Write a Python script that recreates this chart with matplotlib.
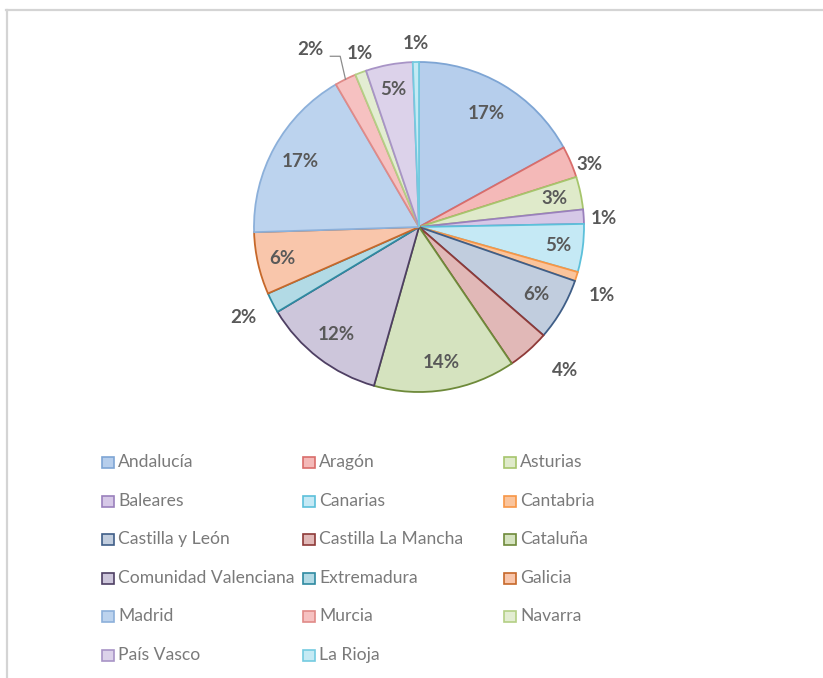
import numpy as np
import matplotlib
matplotlib.use("Agg")
import matplotlib.pyplot as plt
from matplotlib.patches import Rectangle
from matplotlib.lines import Line2D

# regions, clockwise from 12 o'clock
regions = ["Andalucía", "Aragón", "Asturias", "Baleares", "Canarias", "Cantabria",
           "Castilla y León", "Castilla La Mancha", "Cataluña",
           "Comunidad Valenciana", "Extremadura", "Galicia", "Madrid", "Murcia",
           "Navarra", "País Vasco", "La Rioja"]
shares = [17.0, 3.1, 3.2, 1.4, 4.7, 0.9, 6.1, 4.1, 13.9,
          12.0, 2.0, 6.1, 17.1, 2.1, 1.1, 4.6, 0.6]

fills = ["#B6CEEC", "#F4B9B8", "#DFEACA", "#D6C8E7", "#C5E9F5", "#FAC49C",
         "#C1CDDE", "#E1B8B7", "#D5E3BF", "#CDC6DB", "#B2DAE5", "#F9C6AB",
         "#BCD3EE", "#F6C1C1", "#E3EDD2", "#DCD2EA", "#C5EAF4"]
edges = ["#7EA5D4", "#D96D6B", "#A6C56C", "#9A80BC", "#5CC0DA", "#F79646",
         "#3F5E87", "#8E3A38", "#6E8A3A", "#4E3F63", "#2F8AA1", "#C6682A",
         "#8CB0DA", "#E08A88", "#B4CF85", "#A894C6", "#74CBE0"]

# label placement (radius in pie units, small angle tweak in degrees)
lab_r = [0.80, 1.10, 0.84, 1.12, 0.85, 1.18, 0.82, 1.24, 0.83,
         0.82, 1.20, 0.85, 0.82, 1.26, 1.11, 0.85, 1.11]
lab_da = [0, -3, 0, -1, 0, -3, 0, 4, 0, 0, 0, 0, 0, 5, -2, 0, 0]

W, H = 823, 678
fig = plt.figure(figsize=(W / 100, H / 100), dpi=100)
fig.patch.set_facecolor("white")

def fx(x):
    return x / W

def fy(y):
    return 1 - y / H

# frame lines like the screenshot
fig.add_artist(Line2D([fx(6), fx(823)], [fy(9.5), fy(9.5)], color="#D4D4D4", lw=1.6))
fig.add_artist(Line2D([fx(6.5), fx(6.5)], [fy(9.5), fy(678)], color="#D4D4D4", lw=1.6))

cx, cy, R = 419, 227, 165
ax = fig.add_axes([fx(cx - R), fy(cy + R), 2 * R / W, 2 * R / H])
wedges, _ = ax.pie(shares, colors=fills, startangle=90, counterclock=False,
                   radius=1.0, wedgeprops=dict(linewidth=1.3))
for w, ec in zip(wedges, edges):
    w.set_edgecolor(ec)
ax.set_xlim(-1, 1)
ax.set_ylim(-1, 1)
ax.set_aspect("equal")
ax.axis("off")

total = sum(shares)
for i, w in enumerate(wedges):
    mid = np.deg2rad((w.theta1 + w.theta2) / 2 + lab_da[i])
    r = lab_r[i]
    pct = "%d%%" % round(shares[i] / total * 100)
    tx, ty = r * np.cos(mid), r * np.sin(mid)
    ax.text(tx, ty, pct, ha="center", va="center", fontsize=13.5,
            fontweight="bold", color="#595959", family="Lato")
    if regions[i] == "Murcia":
        m0 = np.deg2rad((w.theta1 + w.theta2) / 2)
        ex, ey = np.cos(m0), np.sin(m0)
        ax.plot([tx + 0.12, tx + 0.18, ex], [ty - 0.04, ty - 0.04, ey],
                color="#8C8C8C", lw=0.9, clip_on=False)

# legend, three columns filled row by row
col_x = [102, 303, 504]
row_y = [462, 501, 539, 578, 616, 655]
for i, name in enumerate(regions):
    c = i % 3
    r = i // 3
    x0, y0 = col_x[c], row_y[r]
    fig.add_artist(Rectangle((fx(x0), fy(y0 + 5.5)), 12 / W, 11 / H,
                             facecolor=fills[i], edgecolor=edges[i], lw=1.2,
                             transform=fig.transFigure))
    fig.text(fx(x0 + 16), fy(y0), name, ha="left", va="center",
             fontsize=12.6, color="#7A7A7A", family="Lato")

fig.savefig("out.png", dpi=100, facecolor="white")
